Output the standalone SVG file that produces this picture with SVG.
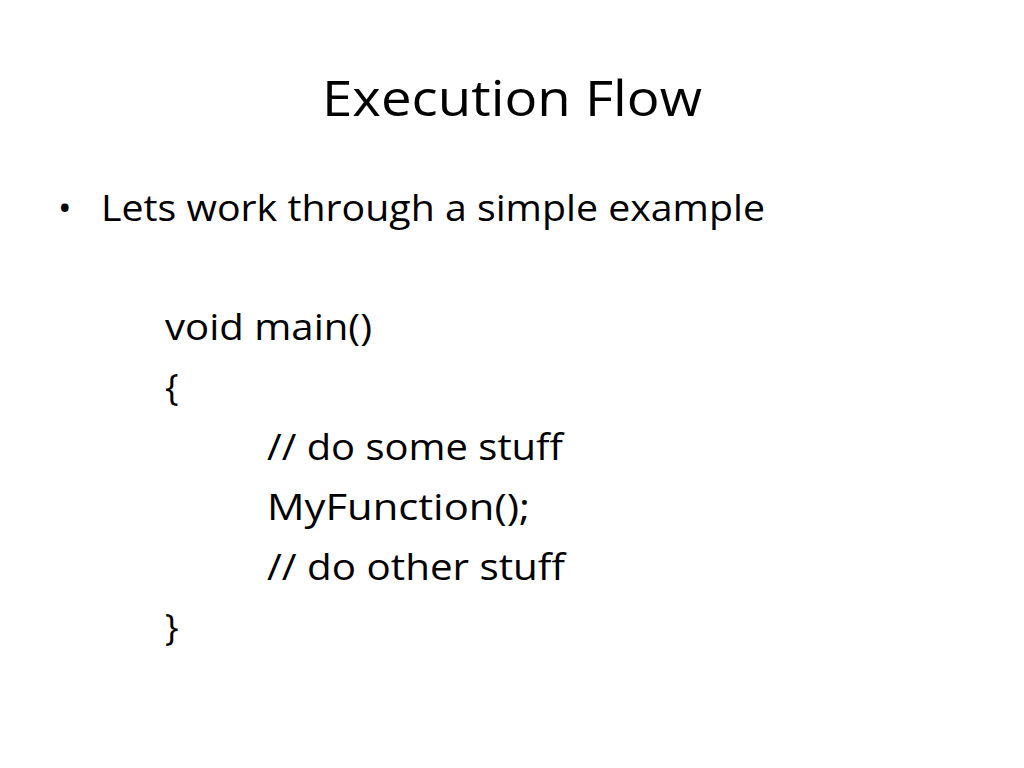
<svg xmlns="http://www.w3.org/2000/svg" width="1024" height="768" viewBox="0 0 1024 768">
<style>
text{font-family:"Open Sans","Noto Sans","Liberation Sans",sans-serif;fill:#000}
.t{font-size:50px}
.b{font-size:36px}
</style>
<rect width="1024" height="768" fill="#fff"/>
<text class="t" x="322" y="116" textLength="380" lengthAdjust="spacingAndGlyphs">Execution Flow</text>
<text class="b" x="58" y="221">•</text>
<text class="b" x="101" y="221" textLength="664" lengthAdjust="spacingAndGlyphs">Lets work through a simple example</text>
<text class="b" x="165" y="340" textLength="207" lengthAdjust="spacingAndGlyphs">void main()</text>
<text class="b" x="165" y="400">{</text>
<text class="b" x="267" y="460" textLength="296" lengthAdjust="spacingAndGlyphs">// do some stuff</text>
<text class="b" x="267" y="520" textLength="263" lengthAdjust="spacingAndGlyphs">MyFunction();</text>
<text class="b" x="267" y="580" textLength="298" lengthAdjust="spacingAndGlyphs">// do other stuff</text>
<text class="b" x="165" y="640">}</text>
</svg>
